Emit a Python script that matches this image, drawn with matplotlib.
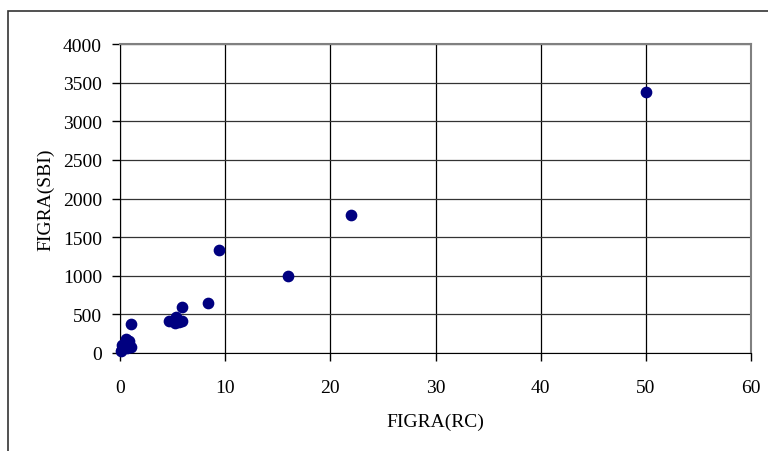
import matplotlib.pyplot as plt
from matplotlib.patches import Rectangle

# data
figra_rc = [0.1, 0.2, 0.3, 0.4, 0.5, 0.6, 0.7, 0.8, 0.9, 1.0, 0.2, 1.05,
            4.7, 5.2, 5.3, 5.6, 5.9, 5.9, 8.4, 9.4, 16, 22, 50]
figra_sbi = [20, 50, 100, 60, 130, 180, 60, 120, 150, 80, 110, 375,
             420, 390, 470, 400, 410, 590, 650, 1330, 1000, 1790, 3380]

plt.rcParams['font.family'] = ['Liberation Serif', 'DejaVu Serif']
plt.rcParams['font.size'] = 14

fig = plt.figure(figsize=(7.68, 4.52), dpi=100)
ax = fig.add_axes([120 / 768, 98 / 452, 631 / 768, 309 / 452])

# outer chart border (cropped at right and bottom)
fig.patches.append(Rectangle((8 / 768, -0.5), 2, 0.5 + (452 - 12) / 452,
                             transform=fig.transFigure, fill=False,
                             edgecolor='#333333', linewidth=1.2))

ax.scatter(figra_rc, figra_sbi, s=55, color='#000080', zorder=3, clip_on=False)

ax.set_xlim(0, 60)
ax.set_ylim(0, 4000)
ax.set_xticks(range(0, 61, 10))
ax.set_yticks(range(0, 4001, 500))
ax.grid(True, axis='x', color='#000000', linewidth=0.9)
ax.grid(True, axis='y', color='#333333', linewidth=0.9)
ax.set_axisbelow(True)
ax.tick_params(direction='out', length=6, width=1)
ax.tick_params(axis='x', pad=13)
ax.tick_params(axis='y', pad=7)

ax.spines['left'].set_color('black')
ax.spines['bottom'].set_color('black')
for s in ['top', 'right']:
    ax.spines[s].set_color('#808080')
    ax.spines[s].set_linewidth(1.5)

ax.set_xlabel('FIGRA(RC)', labelpad=12)
ax.set_ylabel('FIGRA(SBI)', labelpad=6)

fig.savefig('out.png', dpi=100)
